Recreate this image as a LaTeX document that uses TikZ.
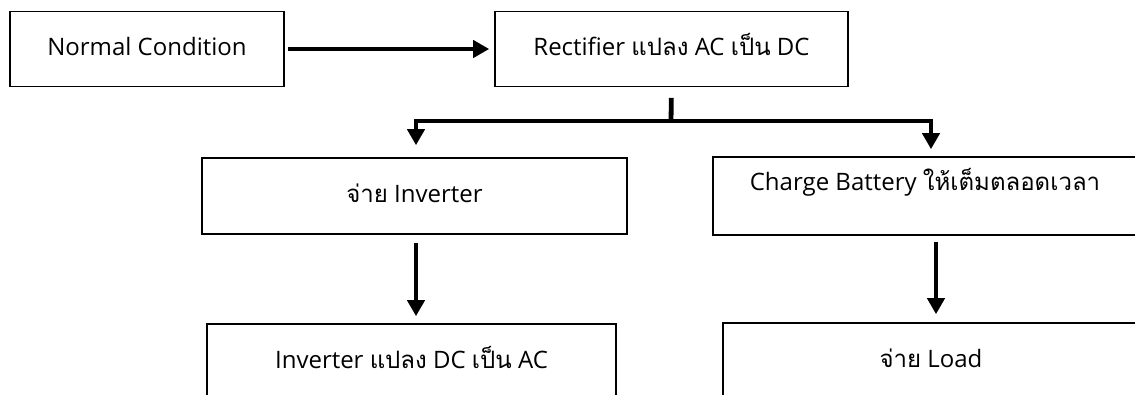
\documentclass[tikz,border=0pt]{standalone}
\usepackage{fontspec}
\setmainfont{Open Sans}
\newfontfamily\thaifont[Script=Thai]{Loma}
\newcommand{\thtext}[1]{{\thaifont #1}}
\usetikzlibrary{arrows.meta}

\begin{document}
\begin{tikzpicture}[x=1pt,y=1pt,
	box/.style={draw,line width=1.6pt,inner xsep=0pt,inner ysep=0pt,text height=44pt,text depth=31pt,font=\fontsize{24}{29}\selectfont},
	arr/.style={line width=4.8pt,-{Triangle[length=16pt,width=17pt]}}]
	\clip (0,0) rectangle (1135,-394);
	% draw boxes
	\node[box,minimum width=274pt] (normal) at (147,-49) {Normal Condition};
	\node[box,minimum width=353pt] (rect) at (671.5,-49) {Rectifier \thtext{แปลง} AC \thtext{เป็น} DC};
	\node[box,minimum width=425pt,text depth=32pt] (inv) at (414.5,-196) {\thtext{จ่าย} Inverter};
	\node[box,minimum width=424pt,text height=33pt,text depth=45pt] (batt) at (925,-196) {Charge Battery \thtext{ให้เต็มตลอดเวลา}};
	\node[box,minimum width=409pt] (conv) at (411.5,-361.5) {Inverter \thtext{แปลง} DC \thtext{เป็น} AC};
	\node[box,minimum width=416pt] (load) at (931,-360.5) {\thtext{จ่าย} Load};
	% draw arrows
	\draw[arr,shorten <=3pt,shorten >=5pt] (normal) -- (rect);
	\coordinate (split) at (671,-121);
	\draw[line width=4.8pt,shorten <=10.5pt] (rect.south) -- (split);
	\draw[arr,shorten >=12pt] (split) -| ([xshift=1.5pt]inv.north);
	\draw[arr,shorten >=7pt] (split) -| ([xshift=6pt]batt.north);
	\draw[arr,shorten <=8pt,shorten >=7pt] ([xshift=1.5pt]inv.south) -- ([xshift=1.5pt]inv.south |- conv.north);
	\draw[arr,shorten <=6pt,shorten >=8pt] ([xshift=11pt]batt.south) -- ([xshift=11pt]batt.south |- load.north);
\end{tikzpicture}
\end{document}
